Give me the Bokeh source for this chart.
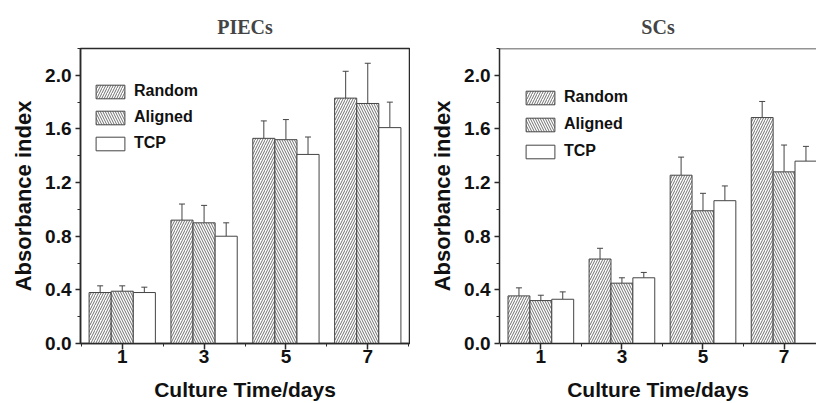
from bokeh.plotting import figure
from bokeh.models import (ColumnDataSource, FixedTicker, PrintfTickFormatter, Range1d,
                          Whisker, TeeHead, Legend, LegendItem, Span)
from bokeh.transform import dodge
from bokeh.layouts import row
from bokeh.embed import file_html
from bokeh.resources import INLINE

# ---- data ----
days = [1, 3, 5, 7]
series_names = ["Random", "Aligned", "TCP"]

piecs_random = [0.38, 0.92, 1.53, 1.83]
piecs_random_err = [0.05, 0.12, 0.13, 0.20]
piecs_aligned = [0.39, 0.90, 1.52, 1.79]
piecs_aligned_err = [0.04, 0.13, 0.15, 0.30]
piecs_tcp = [0.38, 0.80, 1.41, 1.61]
piecs_tcp_err = [0.04, 0.10, 0.13, 0.19]

scs_random = [0.355, 0.63, 1.255, 1.685]
scs_random_err = [0.06, 0.08, 0.135, 0.12]
scs_aligned = [0.32, 0.45, 0.99, 1.28]
scs_aligned_err = [0.04, 0.04, 0.13, 0.20]
scs_tcp = [0.33, 0.49, 1.065, 1.36]
scs_tcp_err = [0.055, 0.04, 0.11, 0.11]

y_ticks = [0.0, 0.4, 0.8, 1.2, 1.6, 2.0]
y_minor = [0.2, 0.6, 1.0, 1.4, 1.8, 2.2]
x_minor = [0, 2, 4, 6, 8]
y_top = 2.2

SANS = "Liberation Sans"
SERIF = "Liberation Serif"
DARK = "#2a2a2a"
BAR_LINE = "#444444"

hatches = ["/", "\\", " "]
offsets = [-0.54, 0.0, 0.54]
BAR_W = 0.54


def make_panel(title, data, width, border_left, border_right, x_end, border_top,
               legend_loc, legend_spacing, full_outline, title_offset):
    p = figure(width=width, height=403, output_backend="svg", toolbar_location=None,
               x_range=Range1d(-0.02, x_end), y_range=Range1d(0, y_top),
               min_border_left=border_left, min_border_right=border_right,
               min_border_top=border_top, min_border_bottom=10)
    p.grid.visible = False
    p.background_fill_color = "white"
    p.border_fill_color = "white"
    if full_outline:
        p.outline_line_color = DARK
        p.outline_line_width = 1.5
    else:
        p.outline_line_color = None
        p.add_layout(Span(location=y_top, dimension="width", line_color=DARK,
                          line_width=1.5))

    p.title.text = title
    p.title.text_font = SERIF
    p.title.text_font_style = "bold"
    p.title.text_font_size = "20px"
    p.title.align = "center"
    p.title.standoff = 22
    p.title.offset = title_offset

    items = []
    for i, (name, vals, errs) in enumerate(data):
        src = ColumnDataSource(dict(day=days, top=vals,
                                    upper=[v + e for v, e in zip(vals, errs)]))
        r = p.vbar(x=dodge("day", offsets[i]), top="top", width=BAR_W, bottom=0,
                   source=src, fill_color="white", line_color=BAR_LINE, line_width=1,
                   hatch_pattern=hatches[i], hatch_color="#707070", hatch_scale=5,
                   hatch_weight=1)
        w = Whisker(source=src, base=dodge("day", offsets[i]), lower="top", upper="upper",
                    dimension="height", line_color=BAR_LINE, line_width=1,
                    upper_head=TeeHead(size=6, line_color=BAR_LINE, line_width=1),
                    lower_head=None)
        p.add_layout(w)
        items.append(LegendItem(label=name, renderers=[r]))

    leg = Legend(items=items, location=legend_loc, glyph_width=36, glyph_height=17,
                 spacing=legend_spacing, padding=0, margin=0, label_standoff=6,
                 label_text_font=SANS, label_text_font_style="bold",
                 label_text_font_size="16px", label_height=17,
                 label_text_color="#111",
                 border_line_color=None, background_fill_alpha=0)
    p.add_layout(leg, "center")

    xa = p.below[0]
    ya = p.left[0]
    for ax in (xa, ya):
        ax.axis_line_color = DARK
        ax.axis_line_width = 1.5
        ax.major_tick_line_color = DARK
        ax.major_tick_line_width = 1.5
        ax.minor_tick_line_color = DARK
        ax.minor_tick_line_width = 1
        ax.major_tick_in = 0
        ax.minor_tick_in = 0
        ax.major_label_text_font = SANS
        ax.major_label_text_font_style = "bold"
        ax.major_label_text_font_size = "19px"
        ax.major_label_text_color = "#111"
        ax.axis_label_text_font = SANS
        ax.axis_label_text_font_style = "bold"
        ax.axis_label_text_color = "#111"

    xa.ticker = FixedTicker(ticks=days, minor_ticks=x_minor)
    xa.major_tick_out = 6
    xa.minor_tick_out = 3
    xa.major_label_standoff = 0
    xa.axis_label = "Culture Time/days"
    xa.axis_label_text_font_size = "21px"
    xa.axis_label_standoff = 12

    ya.ticker = FixedTicker(ticks=y_ticks, minor_ticks=y_minor)
    ya.formatter = PrintfTickFormatter(format="%.1f")
    ya.major_tick_out = 5
    ya.minor_tick_out = 3
    ya.major_label_standoff = 4
    ya.axis_label = "Absorbance index"
    ya.axis_label_text_font_size = "22px"
    ya.axis_label_standoff = 6
    return p


p1 = make_panel("PIECs",
                [("Random", piecs_random, piecs_random_err),
                 ("Aligned", piecs_aligned, piecs_aligned_err),
                 ("TCP", piecs_tcp, piecs_tcp_err)],
                width=410, border_left=80, border_right=1, x_end=8.02, border_top=46,
                legend_loc=(12, 191), legend_spacing=8, full_outline=True, title_offset=0)
p2 = make_panel("SCs",
                [("Random", scs_random, scs_random_err),
                 ("Aligned", scs_aligned, scs_aligned_err),
                 ("TCP", scs_tcp, scs_tcp_err)],
                width=406, border_left=89, border_right=0, x_end=7.8, border_top=48,
                legend_loc=(23, 183), legend_spacing=9, full_outline=False, title_offset=5)

layout = row(p1, p2)
open("out.html", "w").write(file_html(layout, INLINE))
